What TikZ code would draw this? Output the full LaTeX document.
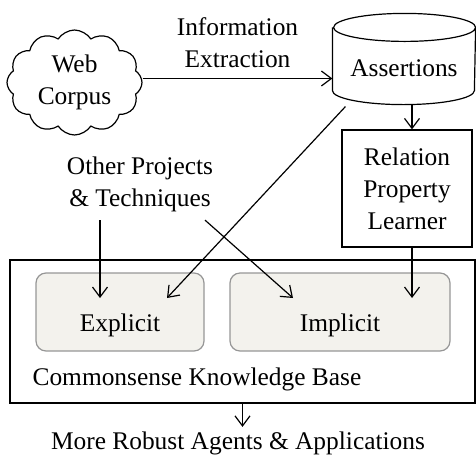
\documentclass[tikz,border=0pt]{standalone}
\usepackage{fontspec}
\setmainfont{Liberation Serif}
\usetikzlibrary{shapes.symbols,arrows.meta}
\definecolor{boxfill}{RGB}{243,242,237}
\definecolor{boxline}{RGB}{150,150,150}
\tikzset{
  arr/.style={-{Straight Barb[length=5pt,width=7.5pt]},line width=0.6pt},
  part/.style={draw=boxline,fill=boxfill,rounded corners=5pt,line width=0.6pt,text height=19pt,text depth=0pt},
}
\begin{document}
\begin{tikzpicture}[x=0.5pt,y=-0.5pt,line width=0.6pt,font=\fontsize{12.7}{16}\selectfont]
\useasboundingbox (0,0) rectangle (476,456);
\node[draw,cloud,cloud puffs=12,cloud puff arc=115,cloud ignores aspect,minimum width=67.5pt,minimum height=52.5pt,inner sep=0pt,align=center] (web) at (74.5,82.5) {Web\\Corpus};
\node[minimum width=71pt,minimum height=45pt,inner sep=0pt,text height=17.8pt,text depth=0pt] (assert) at (404,59) {Assertions};
\draw ([yshift=-7pt]assert.north west) -- ([yshift=7pt]assert.south west)
  arc[start angle=180,end angle=360,x radius=35.5pt,y radius=7pt]
  -- ([yshift=-7pt]assert.north east)
  arc[start angle=0,end angle=180,x radius=35.5pt,y radius=7pt]
  arc[start angle=180,end angle=360,x radius=35.5pt,y radius=7pt];
\node[draw,minimum width=65pt,minimum height=58.5pt,inner sep=0pt,align=center] (learner) at (407,188.5) {Relation\\Property\\Learner};
\node[align=center,inner sep=4pt] (other) at (140,184) {Other Projects\\\& Techniques};

\node[draw,minimum width=232.5pt,minimum height=71.5pt] (kb) at (242.5,331.5) {};
\node[anchor=west,inner sep=0pt] (kb-label) at (32,379) {Commonsense Knowledge Base};
\node[part,minimum width=84pt,minimum height=39pt] (explicit) at (120,312) {Explicit};
\node[part,minimum width=110pt,minimum height=39pt] (implicit) at (340,312) {Implicit};
\node[inner sep=2pt] (robust) at (238,443) {More Robust Agents \& Applications};

\coordinate (explicit-1) at (100,298);
\coordinate (explicit-2) at (167,298);
\coordinate (implicit-1) at (293,298);
\coordinate (implicit-2) at (412,298);

\path[arr] ([yshift=2pt]web.east) edge node[above=1.5pt,align=center] {Information\\Extraction} ([yshift=2pt]web.east -| assert.west);
\path[arr] ([xshift=4pt]assert.south) edge ([xshift=4pt]assert.south |- learner.north);
\path[arr] ([xshift=2.5pt]learner.south) edge (implicit-2);
\path[arr] ([xshift=-20pt]other.south) edge (explicit-1);
\path[arr] ([xshift=32.5pt]other.south) edge (implicit-1);
\path[arr] ([xshift=6.5pt,yshift=-1pt]assert.south west) edge (explicit-2);
\path[arr] (kb.south) edge (kb.south |- robust.north);
\end{tikzpicture}
\end{document}
